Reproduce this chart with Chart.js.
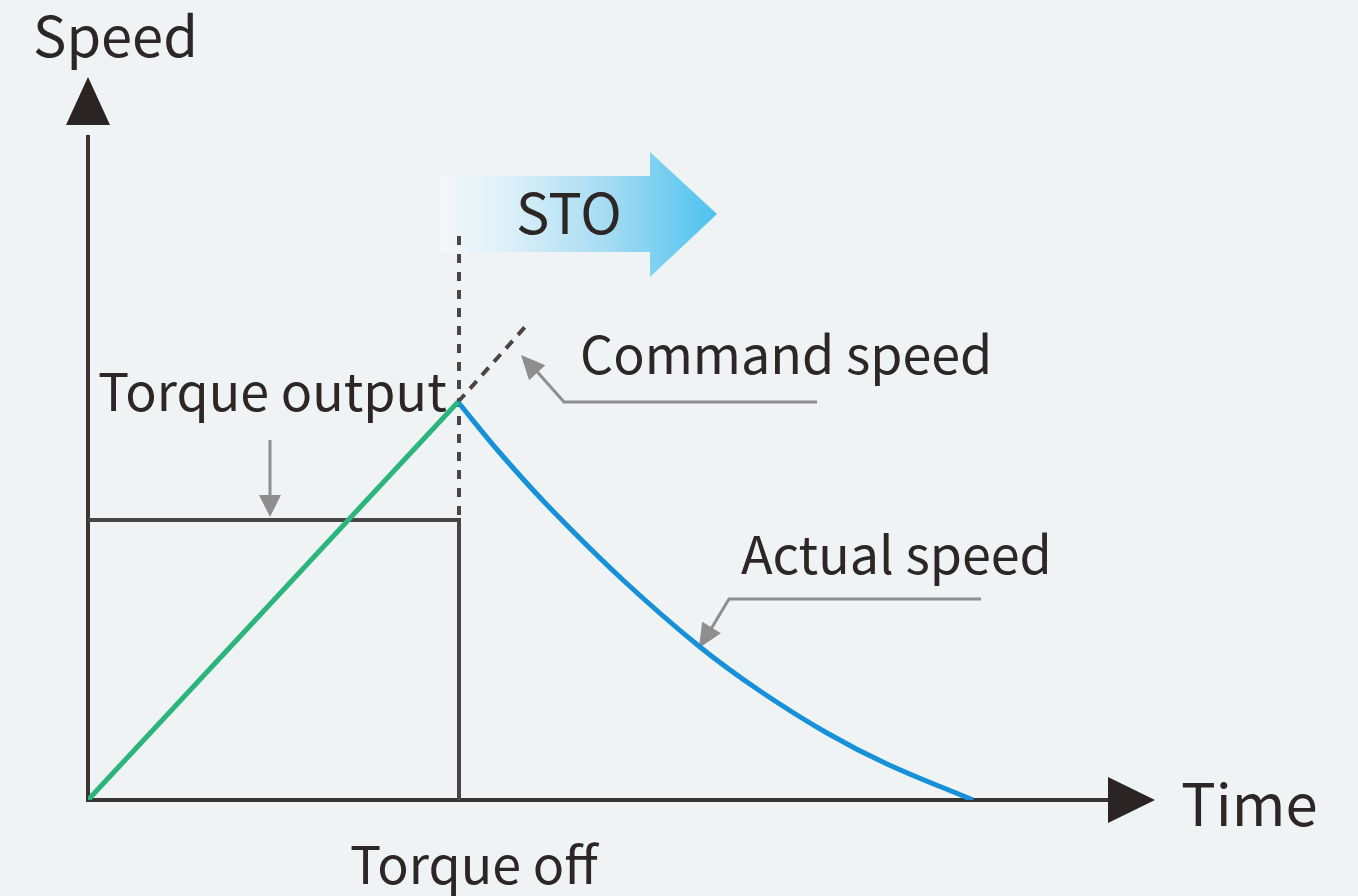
<!DOCTYPE html>
<html>
<head>
<meta charset="utf-8">
<script src="https://cdn.jsdelivr.net/npm/chart.js@4"></script>
<style>
  html, body { margin: 0; padding: 0; background: #eff3f4; }
  #wrap { width: 1358px; height: 896px; }
</style>
</head>
<body>
<div id="wrap"><canvas id="c" width="1358" height="896"></canvas></div>
<script>
// ---- data (time units / speed units) ----
const accelTime = [0, 370];
const accelSpeed = [0, 398];

const decelTime = [370, 412, 462, 535, 612, 672, 739, 799, 885];
const decelSpeed = [398, 347, 292, 220, 153, 109, 67, 36, 0];

const commandTime = [370, 437];
const commandSpeed = [398, 473];

const torqueTime = [0, 371, 371];
const torqueLevel = [280, 280, 0];

const torqueOffTime = [371, 371];
const torqueOffMark = [285, 565];

const axisMaxTime = 1067;
const axisMaxSpeed = 705;

const labels = {
  yTitle: 'Speed',
  xTitle: 'Time',
  sto: 'STO',
  torqueOutput: 'Torque output',
  command: 'Command speed',
  actual: 'Actual speed',
  torqueOff: 'Torque off'
};

const pts = (xs, ys) => xs.map((x, i) => ({ x, y: ys[i] }));

const FONT = '"Noto Sans CJK JP", "Noto Sans", sans-serif';
const TEXT = '#2d2626';
const AXIS = '#3a3535';
const GREY = '#8e8e8e';

function arrowHead(ctx, tipX, tipY, angle, len, half, color) {
  ctx.save();
  ctx.translate(tipX, tipY);
  ctx.rotate(angle);
  ctx.beginPath();
  ctx.moveTo(0, 0);
  ctx.lineTo(-len, -half);
  ctx.lineTo(-len, half);
  ctx.closePath();
  ctx.fillStyle = color;
  ctx.fill();
  ctx.restore();
}

const decor = {
  id: 'decor',
  beforeDatasetsDraw(chart) {
    const ctx = chart.ctx;
    const xs = chart.scales.x, ys = chart.scales.y;
    const x0 = xs.getPixelForValue(0), y0 = ys.getPixelForValue(0);
    const xEnd = xs.getPixelForValue(axisMaxTime), yEnd = ys.getPixelForValue(axisMaxSpeed);
    ctx.save();
    // axes
    ctx.strokeStyle = AXIS;
    ctx.lineWidth = 4;
    ctx.lineCap = 'butt';
    ctx.beginPath();
    ctx.moveTo(x0, y0 + 2);
    ctx.lineTo(x0, yEnd + 40);
    ctx.moveTo(x0 - 2, y0);
    ctx.lineTo(xEnd - 40, y0);
    ctx.stroke();
    arrowHead(ctx, x0, yEnd - 18, -Math.PI / 2, 48, 22, '#2b2424');
    arrowHead(ctx, xEnd, y0, 0, 47, 23, '#2b2424');

    // STO arrow
    const sx = xs.getPixelForValue(352);
    const g = ctx.createLinearGradient(sx, 0, sx + 277, 0);
    g.addColorStop(0, '#f4f7f8');
    g.addColorStop(0.25, '#dcf0f8');
    g.addColorStop(0.6, '#a6dcf2');
    g.addColorStop(1, '#4cc2ee');
    ctx.fillStyle = g;
    ctx.beginPath();
    ctx.moveTo(sx, 176);
    ctx.lineTo(sx + 210, 176);
    ctx.lineTo(sx + 210, 152);
    ctx.lineTo(sx + 277, 214);
    ctx.lineTo(sx + 210, 277);
    ctx.lineTo(sx + 210, 252);
    ctx.lineTo(sx, 252);
    ctx.closePath();
    ctx.fill();

    // grey callout arrows
    ctx.strokeStyle = GREY;
    ctx.lineWidth = 3;
    ctx.lineJoin = 'miter';
    // torque output
    ctx.beginPath();
    ctx.moveTo(270, 440);
    ctx.lineTo(270, 500);
    ctx.stroke();
    arrowHead(ctx, 270, 517, Math.PI / 2, 22, 11, GREY);
    // command speed
    ctx.beginPath();
    ctx.moveTo(817, 402);
    ctx.lineTo(564, 402);
    ctx.lineTo(533, 367);
    ctx.stroke();
    arrowHead(ctx, 521, 355, Math.atan2(355 - 402, 521 - 564), 24, 11, GREY);
    // actual speed
    ctx.beginPath();
    ctx.moveTo(981, 599);
    ctx.lineTo(729, 599);
    ctx.lineTo(708, 634);
    ctx.stroke();
    arrowHead(ctx, 699, 648, Math.atan2(648 - 599, 699 - 729), 24, 11, GREY);
    ctx.restore();
  },
  afterDatasetsDraw(chart) {
    const ctx = chart.ctx;
    ctx.save();
    ctx.fillStyle = TEXT;
    ctx.textBaseline = 'alphabetic';
    ctx.textAlign = 'left';
    ctx.font = '56px ' + FONT;
    ctx.fillText(labels.yTitle, 33, 57);
    ctx.fillText(labels.sto, 516, 234);
    ctx.font = '58px ' + FONT;
    ctx.fillText(labels.xTitle, 1181, 826);
    ctx.font = '52px ' + FONT;
    ctx.fillText(labels.torqueOutput, 98, 411);
    ctx.fillText(labels.command, 580, 374);
    ctx.fillText(labels.actual, 741, 574);
    ctx.fillText(labels.torqueOff, 350, 884);
    ctx.restore();
  }
};

new Chart(document.getElementById('c'), {
  type: 'scatter',
  data: {
    datasets: [
      { label: 'accel', data: pts(accelTime, accelSpeed), showLine: true, borderColor: '#2bb57d', borderWidth: 5, pointRadius: 0, order: 0 },
      { label: 'decel', data: pts(decelTime, decelSpeed), showLine: true, borderColor: '#1690d8', borderWidth: 5, pointRadius: 0, tension: 0.4, order: 0 },
      { label: 'command', data: pts(commandTime, commandSpeed), showLine: true, borderColor: '#4a4646', borderWidth: 4, borderDash: [10, 8], pointRadius: 0, order: 1 },
      { label: 'torque', data: pts(torqueTime, torqueLevel), showLine: true, borderColor: '#4a4545', borderWidth: 4, pointRadius: 0, order: 2 },
      { label: 'torqueOff', data: pts(torqueOffTime, torqueOffMark), showLine: true, borderColor: '#4a4646', borderWidth: 4, borderDash: [9, 9], pointRadius: 0, order: 3 }
    ]
  },
  options: {
    responsive: false,
    animation: false,
    devicePixelRatio: 1,
    layout: { padding: { left: 88, right: 203, top: 95, bottom: 96 } },
    plugins: { legend: { display: false }, tooltip: { enabled: false } },
    scales: {
      x: { type: 'linear', min: 0, max: axisMaxTime, display: false },
      y: { type: 'linear', min: 0, max: axisMaxSpeed, display: false }
    }
  },
  plugins: [decor]
});
</script>
</body>
</html>
